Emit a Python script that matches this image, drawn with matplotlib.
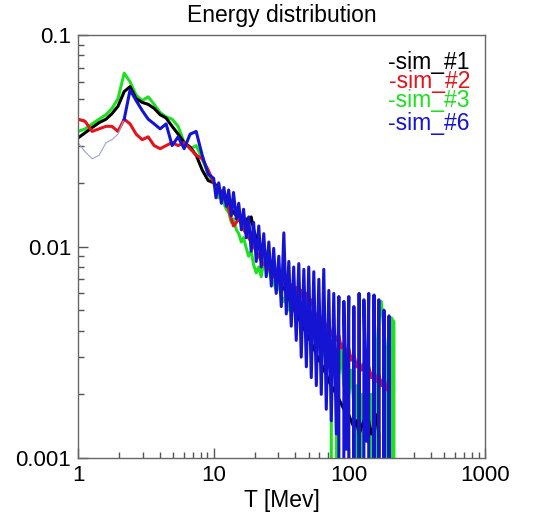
import numpy as np
import matplotlib
matplotlib.use('Agg')
import matplotlib.pyplot as plt

plt.rcParams['font.family'] = ['Liberation Sans', 'DejaVu Sans']

# --- DATA ---
# bin centres, MeV
energy = [1.00, 1.13, 1.27, 1.43, 1.61, 1.78, 1.97, 2.19, 2.42, 2.68, 2.97,
          3.29, 3.64, 4.03, 4.46, 4.94, 5.47, 6.06, 6.71, 7.43, 8.23, 9.11,
          10.0, 10.4, 10.9, 11.4, 11.9, 12.4, 12.9, 13.5, 14.0, 14.7,
          15.3, 16.0, 16.6, 17.4, 18.1, 18.9, 19.7, 20.6, 21.5, 22.4,
          23.4, 24.4, 25.5, 26.6, 27.7, 28.9, 30.2, 31.5, 32.9, 34.3,
          35.8, 37.3, 38.9, 40.6, 42.4, 44.2, 46.2, 48.2, 50.2, 52.4,
          54.7, 57.1, 59.6, 62.1, 64.8, 67.6, 70.6, 73.6, 76.8, 80.2,
          83.7, 87.3, 91.1, 95.0, 99.1, 103, 108, 113, 118, 123,
          128, 134, 139, 145, 152, 158, 165, 172, 180, 188,
          196, 204, 213, 222]

nan = np.nan

sim_1 = [0.0326, 0.0345, 0.0365, 0.0385, 0.0400, 0.0425, 0.046, 0.054, 0.057, 0.050, 0.048,
         0.047, 0.045, 0.042, 0.0405, 0.037, 0.034, 0.031, 0.0295, 0.027, 0.023, 0.0205,
         0.020, 0.0195, 0.019, 0.018, 0.017, 0.0165, 0.016, 0.015, 0.0145, 0.014,
         0.0135, 0.0138, 0.013, 0.0135, 0.0128, 0.0138, 0.012, 0.011, 0.0105, 0.010,
         0.0095, 0.0090, 0.0086, 0.0082, 0.0078, 0.0074, 0.0070, 0.0067, 0.0064, 0.0060,
         0.0057, 0.0054, 0.0051, 0.0048, 0.0046, 0.0043, 0.0041, 0.0039, 0.0037, 0.0035,
         0.0033, 0.0031, 0.0029, 0.0028, 0.0026, 0.0025, 0.0023, 0.0022, 0.0021, 0.0020,
         0.0019, 0.0018, 0.0017, 0.0016, 0.0016, 0.0015, 0.0014, 0.0015, 0.0013, 0.0014,
         0.0015, 0.0013, 0.0015, 0.0013, 0.0014, 0.0016, 0.0013, 0.0, nan, nan,
         nan, nan, nan, nan]

sim_2 = [0.040, 0.039, 0.035, 0.036, 0.037, 0.037, 0.035, 0.040, 0.038, 0.034, 0.032,
         0.033, 0.030, 0.029, 0.030, 0.031, 0.030, 0.031, 0.029, 0.027, 0.026, 0.023,
         0.020, 0.019, 0.0185, 0.018, 0.017, 0.016, 0.015, 0.0135, 0.0125, 0.013,
         0.0135, 0.0128, 0.012, 0.0115, 0.011, 0.0105, 0.010, 0.0095, 0.0090, 0.0086,
         0.0082, 0.0085, 0.0078, 0.0075, 0.0072, 0.0070, 0.0068, 0.0071, 0.0066, 0.0064,
         0.0062, 0.0066, 0.0060, 0.0064, 0.0058, 0.0062, 0.0055, 0.0060, 0.0052, 0.0056,
         0.0050, 0.0047, 0.0049, 0.0044, 0.0046, 0.0041, 0.0043, 0.0038, 0.0040, 0.0036,
         0.0038, 0.0033, 0.0035, 0.0031, 0.0033, 0.0029, 0.0031, 0.0027, 0.0029, 0.0026,
         0.0028, 0.0025, 0.0027, 0.0024, 0.0026, 0.0023, 0.0025, 0.0022, 0.0024, 0.0021,
         0.0022, 0.0, nan, nan]

sim_3 = [0.035, 0.036, 0.038, 0.040, 0.042, 0.045, 0.050, 0.066, 0.060, 0.052, 0.049,
         0.051, 0.047, 0.043, 0.041, 0.040, 0.037, 0.031, 0.029, 0.030, 0.026, 0.022,
         0.020, 0.019, 0.017, 0.0175, 0.016, 0.015, 0.0145, 0.013, 0.0135, 0.012,
         0.0115, 0.0105, 0.011, 0.0098, 0.0090, 0.0095, 0.0082, 0.0075, 0.0080, 0.0072,
         0.0085, 0.0095, 0.0078, 0.0070, 0.0068, 0.0062, 0.0066, 0.0058, 0.0055, 0.0060,
         0.0050, 0.0056, 0.0052, 0.0047, 0.0050, 0.0044, 0.0048, 0.0040, 0.0045, 0.0037,
         0.0042, 0.0034, 0.0038, 0.0030, 0.0034, 0.0027, 0.0030, 0.0024, 0.0, 0.0030,
         0.0025, 0.0032, 0.0022, 0.0028, 0.0020, 0.0026, 0.0018, 0.0022, 0.0, 0.0020,
         0.0016, 0.0025, 0.0014, 0.0020, 0.0, 0.0030, 0.0045, 0.0055, 0.0040, 0.0030,
         0.0, 0.0046, 0.0044, 0.0]

sim_6 = [0.031, 0.028, 0.026, 0.027, 0.031, 0.032, 0.034, 0.040, 0.055, 0.049, 0.044,
         0.040, 0.038, 0.036, 0.038, 0.030, 0.033, 0.029, 0.034, 0.035, 0.027, 0.022,
         0.021, 0.017, 0.020, 0.016, 0.019, 0.0155, 0.0185, 0.014, 0.018, 0.0135,
         0.016, 0.012, 0.015, 0.011, 0.0138, 0.0095, 0.013, 0.0085, 0.0125, 0.0080,
         0.0115, 0.0072, 0.0105, 0.0065, 0.0098, 0.0060, 0.0090, 0.0052, 0.0116, 0.0048,
         0.0085, 0.0042, 0.0080, 0.0036, 0.0083, 0.0030, 0.0078, 0.0027, 0.0080, 0.0024,
         0.0076, 0.0022, 0.0070, 0.0020, 0.0078, 0.0017, 0.0062, 0.0015, 0.0060, 0.0013,
         0.0058, 0.0, 0.0055, 0.0011, 0.0058, 0.0, 0.0052, 0.0, 0.0060, 0.0,
         0.0056, 0.0012, 0.0060, 0.0, 0.0059, 0.0, 0.0056, 0.0, 0.0050, 0.0,
         0.0047, 0.0, nan, nan]

labels = ['-sim_#1', '-sim_#2', '-sim_#3', '-sim_#6']
colors = ['black', '#e4141c', '#1ee01e', '#1414d2']
THIN_END = 8   # sim_6 is drawn thin and faint below ~2.2 MeV

xticks = [1, 10, 100, 1000]
xticklabels = ['1', '10', '100', '1000']
yticks = [0.001, 0.01, 0.1]
yticklabels = ['0.001', '0.01', '0.1']

# --- PLOT ---
fig = plt.figure(figsize=(5.41, 5.20), dpi=100)
ax = fig.add_axes([0.1442, 0.1192, 0.7523, 0.8135])
ax.set_xscale('log')
ax.set_yscale('log', nonpositive='clip')

lw = 2.2
ax.plot(energy, sim_3, color=colors[2], lw=lw)
ax.plot(energy, sim_1, color=colors[0], lw=lw)
ax.plot(energy, sim_2, color=colors[1], lw=lw)
ax.plot(energy[:THIN_END], sim_6[:THIN_END], color='#a0a0d4', lw=0.8)
ax.plot(energy[THIN_END - 1:], sim_6[THIN_END - 1:], color=colors[3], lw=lw)

ax.set_xlim(1, 1000)
ax.set_ylim(0.001, 0.1)
ax.set_xticks(xticks)
ax.set_xticklabels(xticklabels)
ax.set_yticks(yticks)
ax.set_yticklabels(yticklabels)

ax.tick_params(which='both', direction='in', top=False, right=False,
               labelsize=16, color='#555555')
ax.tick_params(which='major', length=7, width=1, pad=5)
ax.tick_params(which='minor', length=4, width=1)
for s in ax.spines.values():
    s.set_color('#666666')
    s.set_linewidth(1.0)

ax.set_title('Energy distribution', fontsize=16.5, pad=9)
ax.set_xlabel('T [Mev]', fontsize=16.5, labelpad=2)

legend_y = [0.936, 0.891, 0.846, 0.790]
for lab, col, yy in zip(labels, colors, legend_y):
    ax.text(0.963, yy, lab, color=col, fontsize=16.5, ha='right', va='center',
            transform=ax.transAxes)

fig.savefig('out.png', dpi=100)
